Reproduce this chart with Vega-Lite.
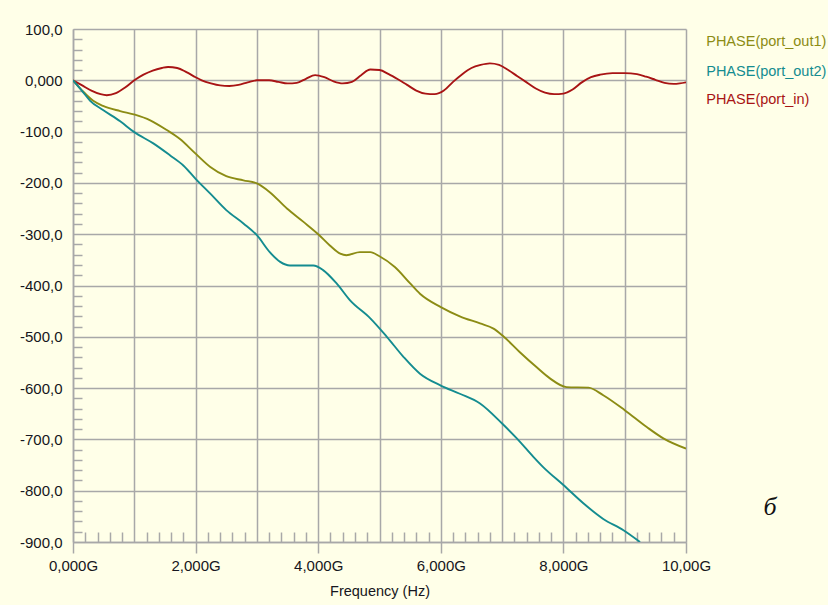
{
  "$schema": "https://vega.github.io/schema/vega-lite/v6.json",
  "width": 613,
  "height": 513,
  "autosize": {"type": "none"},
  "padding": {"left": 73, "top": 29, "right": 142, "bottom": 63},
  "background": "#FFFFE8",
  "config": {"view": {"stroke": null}},
  "datasets": {
    "curves": [
      {"s": "PHASE(port_in)", "f": 0, "v": 0},
      {"s": "PHASE(port_in)", "f": 0.15, "v": -10},
      {"s": "PHASE(port_in)", "f": 0.3, "v": -20},
      {"s": "PHASE(port_in)", "f": 0.45, "v": -27},
      {"s": "PHASE(port_in)", "f": 0.55, "v": -29},
      {"s": "PHASE(port_in)", "f": 0.7, "v": -25},
      {"s": "PHASE(port_in)", "f": 0.85, "v": -14},
      {"s": "PHASE(port_in)", "f": 1.0, "v": 0},
      {"s": "PHASE(port_in)", "f": 1.15, "v": 11},
      {"s": "PHASE(port_in)", "f": 1.3, "v": 19},
      {"s": "PHASE(port_in)", "f": 1.45, "v": 24},
      {"s": "PHASE(port_in)", "f": 1.55, "v": 26},
      {"s": "PHASE(port_in)", "f": 1.7, "v": 24},
      {"s": "PHASE(port_in)", "f": 1.85, "v": 16},
      {"s": "PHASE(port_in)", "f": 2.0, "v": 6},
      {"s": "PHASE(port_in)", "f": 2.1, "v": 0},
      {"s": "PHASE(port_in)", "f": 2.25, "v": -6},
      {"s": "PHASE(port_in)", "f": 2.4, "v": -10},
      {"s": "PHASE(port_in)", "f": 2.55, "v": -11},
      {"s": "PHASE(port_in)", "f": 2.7, "v": -9},
      {"s": "PHASE(port_in)", "f": 2.85, "v": -4},
      {"s": "PHASE(port_in)", "f": 3.0, "v": 0},
      {"s": "PHASE(port_in)", "f": 3.2, "v": 0},
      {"s": "PHASE(port_in)", "f": 3.35, "v": -3},
      {"s": "PHASE(port_in)", "f": 3.5, "v": -6},
      {"s": "PHASE(port_in)", "f": 3.65, "v": -5},
      {"s": "PHASE(port_in)", "f": 3.8, "v": 3},
      {"s": "PHASE(port_in)", "f": 3.95, "v": 10},
      {"s": "PHASE(port_in)", "f": 4.1, "v": 6},
      {"s": "PHASE(port_in)", "f": 4.25, "v": -2},
      {"s": "PHASE(port_in)", "f": 4.4, "v": -6},
      {"s": "PHASE(port_in)", "f": 4.55, "v": -3},
      {"s": "PHASE(port_in)", "f": 4.7, "v": 10},
      {"s": "PHASE(port_in)", "f": 4.85, "v": 21},
      {"s": "PHASE(port_in)", "f": 5.0, "v": 20},
      {"s": "PHASE(port_in)", "f": 5.15, "v": 12},
      {"s": "PHASE(port_in)", "f": 5.3, "v": 2},
      {"s": "PHASE(port_in)", "f": 5.45, "v": -9},
      {"s": "PHASE(port_in)", "f": 5.6, "v": -20},
      {"s": "PHASE(port_in)", "f": 5.75, "v": -26},
      {"s": "PHASE(port_in)", "f": 5.9, "v": -27},
      {"s": "PHASE(port_in)", "f": 6.05, "v": -20},
      {"s": "PHASE(port_in)", "f": 6.2, "v": -3},
      {"s": "PHASE(port_in)", "f": 6.35, "v": 12},
      {"s": "PHASE(port_in)", "f": 6.5, "v": 24},
      {"s": "PHASE(port_in)", "f": 6.65, "v": 30},
      {"s": "PHASE(port_in)", "f": 6.8, "v": 33},
      {"s": "PHASE(port_in)", "f": 6.95, "v": 30},
      {"s": "PHASE(port_in)", "f": 7.1, "v": 20},
      {"s": "PHASE(port_in)", "f": 7.25, "v": 8},
      {"s": "PHASE(port_in)", "f": 7.4, "v": -4},
      {"s": "PHASE(port_in)", "f": 7.55, "v": -16},
      {"s": "PHASE(port_in)", "f": 7.7, "v": -24},
      {"s": "PHASE(port_in)", "f": 7.85, "v": -27},
      {"s": "PHASE(port_in)", "f": 8.0, "v": -26},
      {"s": "PHASE(port_in)", "f": 8.15, "v": -18},
      {"s": "PHASE(port_in)", "f": 8.3, "v": -4},
      {"s": "PHASE(port_in)", "f": 8.45, "v": 6},
      {"s": "PHASE(port_in)", "f": 8.6, "v": 11},
      {"s": "PHASE(port_in)", "f": 8.8, "v": 14},
      {"s": "PHASE(port_in)", "f": 9.0, "v": 14},
      {"s": "PHASE(port_in)", "f": 9.2, "v": 12},
      {"s": "PHASE(port_in)", "f": 9.35, "v": 7},
      {"s": "PHASE(port_in)", "f": 9.5, "v": 1},
      {"s": "PHASE(port_in)", "f": 9.65, "v": -5},
      {"s": "PHASE(port_in)", "f": 9.8, "v": -7},
      {"s": "PHASE(port_in)", "f": 9.9, "v": -6},
      {"s": "PHASE(port_in)", "f": 10.0, "v": -4},

      {"s": "PHASE(port_out1)", "f": 0, "v": 0},
      {"s": "PHASE(port_out1)", "f": 0.15, "v": -20},
      {"s": "PHASE(port_out1)", "f": 0.33, "v": -40},
      {"s": "PHASE(port_out1)", "f": 0.49, "v": -50},
      {"s": "PHASE(port_out1)", "f": 0.77, "v": -60},
      {"s": "PHASE(port_out1)", "f": 1.01, "v": -67},
      {"s": "PHASE(port_out1)", "f": 1.26, "v": -78},
      {"s": "PHASE(port_out1)", "f": 1.53, "v": -97},
      {"s": "PHASE(port_out1)", "f": 1.74, "v": -114},
      {"s": "PHASE(port_out1)", "f": 2.0, "v": -143},
      {"s": "PHASE(port_out1)", "f": 2.24, "v": -169},
      {"s": "PHASE(port_out1)", "f": 2.5, "v": -187},
      {"s": "PHASE(port_out1)", "f": 2.78, "v": -195},
      {"s": "PHASE(port_out1)", "f": 3.0, "v": -201},
      {"s": "PHASE(port_out1)", "f": 3.21, "v": -218},
      {"s": "PHASE(port_out1)", "f": 3.49, "v": -250},
      {"s": "PHASE(port_out1)", "f": 3.76, "v": -276},
      {"s": "PHASE(port_out1)", "f": 4.0, "v": -300},
      {"s": "PHASE(port_out1)", "f": 4.19, "v": -322},
      {"s": "PHASE(port_out1)", "f": 4.36, "v": -338},
      {"s": "PHASE(port_out1)", "f": 4.46, "v": -341},
      {"s": "PHASE(port_out1)", "f": 4.68, "v": -335},
      {"s": "PHASE(port_out1)", "f": 4.85, "v": -335},
      {"s": "PHASE(port_out1)", "f": 5.0, "v": -343},
      {"s": "PHASE(port_out1)", "f": 5.25, "v": -364},
      {"s": "PHASE(port_out1)", "f": 5.5, "v": -396},
      {"s": "PHASE(port_out1)", "f": 5.66, "v": -416},
      {"s": "PHASE(port_out1)", "f": 6.0, "v": -442},
      {"s": "PHASE(port_out1)", "f": 6.31, "v": -460},
      {"s": "PHASE(port_out1)", "f": 6.64, "v": -474},
      {"s": "PHASE(port_out1)", "f": 6.86, "v": -484},
      {"s": "PHASE(port_out1)", "f": 7.02, "v": -499},
      {"s": "PHASE(port_out1)", "f": 7.29, "v": -530},
      {"s": "PHASE(port_out1)", "f": 7.56, "v": -559},
      {"s": "PHASE(port_out1)", "f": 7.78, "v": -581},
      {"s": "PHASE(port_out1)", "f": 8.05, "v": -598},
      {"s": "PHASE(port_out1)", "f": 8.41, "v": -599},
      {"s": "PHASE(port_out1)", "f": 8.65, "v": -614},
      {"s": "PHASE(port_out1)", "f": 9.0, "v": -643},
      {"s": "PHASE(port_out1)", "f": 9.36, "v": -676},
      {"s": "PHASE(port_out1)", "f": 9.63, "v": -698},
      {"s": "PHASE(port_out1)", "f": 10.0, "v": -718},

      {"s": "PHASE(port_out2)", "f": 0, "v": 0},
      {"s": "PHASE(port_out2)", "f": 0.15, "v": -21},
      {"s": "PHASE(port_out2)", "f": 0.28, "v": -40},
      {"s": "PHASE(port_out2)", "f": 0.49, "v": -58},
      {"s": "PHASE(port_out2)", "f": 0.77, "v": -80},
      {"s": "PHASE(port_out2)", "f": 1.0, "v": -101},
      {"s": "PHASE(port_out2)", "f": 1.31, "v": -123},
      {"s": "PHASE(port_out2)", "f": 1.58, "v": -146},
      {"s": "PHASE(port_out2)", "f": 1.8, "v": -166},
      {"s": "PHASE(port_out2)", "f": 2.0, "v": -192},
      {"s": "PHASE(port_out2)", "f": 2.24, "v": -221},
      {"s": "PHASE(port_out2)", "f": 2.5, "v": -253},
      {"s": "PHASE(port_out2)", "f": 2.78, "v": -279},
      {"s": "PHASE(port_out2)", "f": 3.0, "v": -302},
      {"s": "PHASE(port_out2)", "f": 3.21, "v": -335},
      {"s": "PHASE(port_out2)", "f": 3.38, "v": -354},
      {"s": "PHASE(port_out2)", "f": 3.54, "v": -361},
      {"s": "PHASE(port_out2)", "f": 3.92, "v": -361},
      {"s": "PHASE(port_out2)", "f": 4.08, "v": -370},
      {"s": "PHASE(port_out2)", "f": 4.3, "v": -396},
      {"s": "PHASE(port_out2)", "f": 4.52, "v": -429},
      {"s": "PHASE(port_out2)", "f": 4.85, "v": -464},
      {"s": "PHASE(port_out2)", "f": 5.12, "v": -500},
      {"s": "PHASE(port_out2)", "f": 5.39, "v": -539},
      {"s": "PHASE(port_out2)", "f": 5.66, "v": -572},
      {"s": "PHASE(port_out2)", "f": 6.0, "v": -595},
      {"s": "PHASE(port_out2)", "f": 6.31, "v": -611},
      {"s": "PHASE(port_out2)", "f": 6.64, "v": -630},
      {"s": "PHASE(port_out2)", "f": 7.0, "v": -669},
      {"s": "PHASE(port_out2)", "f": 7.24, "v": -698},
      {"s": "PHASE(port_out2)", "f": 7.51, "v": -734},
      {"s": "PHASE(port_out2)", "f": 7.67, "v": -754},
      {"s": "PHASE(port_out2)", "f": 8.0, "v": -789},
      {"s": "PHASE(port_out2)", "f": 8.33, "v": -825},
      {"s": "PHASE(port_out2)", "f": 8.65, "v": -855},
      {"s": "PHASE(port_out2)", "f": 8.98, "v": -877},
      {"s": "PHASE(port_out2)", "f": 9.25, "v": -900}
    ],
    "legend": [
      {"s": "PHASE(port_out1)", "f": 10.33, "v": 75},
      {"s": "PHASE(port_out2)", "f": 10.33, "v": 16},
      {"s": "PHASE(port_in)", "f": 10.33, "v": -39}
    ],
    "tag": [
      {"label": "б", "f": 11.37, "v": -832}
    ]
  },
  "layer": [
    {
      "data": {"name": "curves"},
      "mark": {"type": "line", "clip": true, "strokeWidth": 1.9, "interpolate": "monotone"},
      "encoding": {
        "x": {
          "field": "f", "type": "quantitative",
          "scale": {"domain": [0, 10], "nice": false, "zero": false},
          "axis": {
            "values": [0,0.2,0.4,0.6,0.8,1,1.2,1.4,1.6,1.8,2,2.2,2.4,2.6,2.8,3,3.2,3.4,3.6,3.8,4,4.2,4.4,4.6,4.8,5,5.2,5.4,5.6,5.8,6,6.2,6.4,6.6,6.8,7,7.2,7.4,7.6,7.8,8,8.2,8.4,8.6,8.8,9,9.2,9.4,9.6,9.8,10],
            "tickCount": 100,
            "grid": true,
            "gridColor": "#a8a8a8",
            "gridWidth": 1.5,
            "gridOpacity": {"condition": {"test": "abs(datum.value - round(datum.value)) < 0.001", "value": 1}, "value": 0},
            "domainColor": "#a8a8a8",
            "domainWidth": 1.5,
            "tickColor": "#a8a8a8",
            "tickWidth": 1.5,
            "tickSize": {"condition": [
              {"test": "abs(datum.value/2 - round(datum.value/2)) < 0.001", "value": 11},
              {"test": "abs(datum.value - round(datum.value)) < 0.001", "value": 0}
            ], "value": -10},
            "labelExpr": "abs(datum.value/2 - round(datum.value/2)) < 0.001 ? (datum.value == 10 ? '10,00G' : replace(format(datum.value, '.3f'), '.', ',') + 'G') : ''",
            "labelFont": "Liberation Sans",
            "labelFontSize": 15,
            "labelColor": "#161620",
            "labelPadding": 5,
            "labelOverlap": false,
            "labelFlush": false,
            "labelBound": false,
            "title": "Frequency (Hz)",
            "titleFont": "Liberation Sans",
            "titleFontSize": 14.5,
            "titleFontWeight": "normal",
            "titleColor": "#161620",
            "titlePadding": 11
          }
        },
        "y": {
          "field": "v", "type": "quantitative",
          "scale": {"domain": [-900, 100], "nice": false, "zero": false},
          "axis": {
            "values": [-900,-880,-860,-840,-820,-800,-780,-760,-740,-720,-700,-680,-660,-640,-620,-600,-580,-560,-540,-520,-500,-480,-460,-440,-420,-400,-380,-360,-340,-320,-300,-280,-260,-240,-220,-200,-180,-160,-140,-120,-100,-80,-60,-40,-20,0,20,40,60,80,100],
            "tickCount": 100,
            "grid": true,
            "gridColor": "#a8a8a8",
            "gridWidth": 1.5,
            "gridOpacity": {"condition": {"test": "datum.value % 100 == 0", "value": 1}, "value": 0},
            "domainColor": "#a8a8a8",
            "domainWidth": 1.5,
            "tickColor": "#a8a8a8",
            "tickWidth": 1.5,
            "tickSize": {"condition": {"test": "datum.value % 100 == 0", "value": 0}, "value": -9},
            "labelExpr": "datum.value % 100 == 0 ? (datum.value == 0 ? '0,000' : (datum.value < 0 ? '-' : '') + replace(format(abs(datum.value), '.1f'), '.', ',')) : ''",
            "labelFont": "Liberation Sans",
            "labelFontSize": 15,
            "labelColor": "#161620",
            "labelPadding": 11,
            "labelOverlap": false,
            "labelFlush": false,
            "labelBound": false,
            "title": null
          }
        },
        "color": {
          "field": "s", "type": "nominal",
          "scale": {"domain": ["PHASE(port_out1)", "PHASE(port_out2)", "PHASE(port_in)"], "range": ["#8c8c14", "#148c90", "#a81414"]},
          "legend": null
        }
      }
    },
    {
      "data": {"name": "legend"},
      "mark": {"type": "text", "align": "left", "baseline": "middle", "font": "Liberation Sans", "fontSize": 14.5},
      "encoding": {
        "x": {"field": "f", "type": "quantitative", "scale": {"domain": [0, 10], "nice": false, "zero": false}},
        "y": {"field": "v", "type": "quantitative", "scale": {"domain": [-900, 100], "nice": false, "zero": false}},
        "text": {"field": "s"},
        "color": {"field": "s", "type": "nominal", "scale": {"domain": ["PHASE(port_out1)", "PHASE(port_out2)", "PHASE(port_in)"], "range": ["#8c8c14", "#148c90", "#a81414"]}, "legend": null}
      }
    },
    {
      "data": {"name": "tag"},
      "mark": {"type": "text", "align": "center", "baseline": "middle", "font": "Liberation Serif", "fontStyle": "italic", "fontSize": 26, "color": "#111111"},
      "encoding": {
        "x": {"field": "f", "type": "quantitative"},
        "y": {"field": "v", "type": "quantitative"},
        "text": {"field": "label"}
      }
    }
  ]
}
